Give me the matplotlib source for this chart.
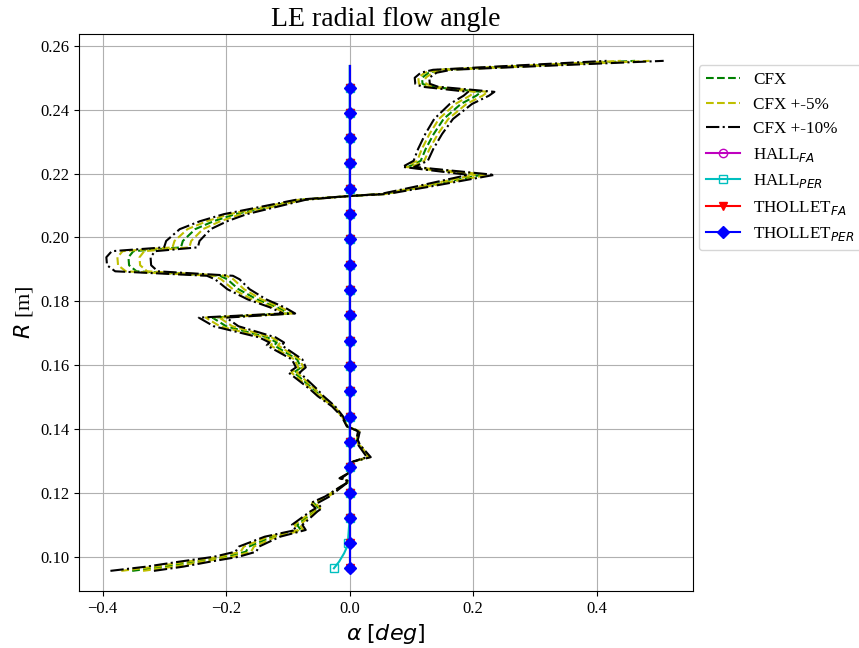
import numpy as np
import matplotlib
matplotlib.use("Agg")
import matplotlib.pyplot as plt

# CFX radial flow angle at the leading edge, hub to shroud
R_CFX = [0.0956, 0.0969, 0.0985, 0.1000, 0.1016, 0.1032, 0.1063, 0.1084, 0.1100,
         0.1142, 0.1152, 0.1168, 0.1189, 0.1215, 0.1236, 0.1246, 0.1267, 0.1288,
         0.1299, 0.1312, 0.1351, 0.1366, 0.1393, 0.1408, 0.1440, 0.1471, 0.1503,
         0.1524, 0.1577, 0.1593, 0.1618, 0.1662, 0.1671, 0.1687, 0.1722, 0.1749,
         0.1762, 0.1781, 0.1806, 0.1838, 0.1869, 0.1880, 0.1894, 0.1913, 0.1938,
         0.1957, 0.1969, 0.1989, 0.2026, 0.2051, 0.2073, 0.2118, 0.2130, 0.2136,
         0.2158, 0.2196, 0.2221, 0.2240, 0.2277, 0.2324, 0.2371, 0.2418, 0.2444,
         0.2456, 0.2472, 0.2481, 0.2500, 0.2516, 0.2525, 0.2553]
ALPHA_CFX = [-0.352, -0.300, -0.250, -0.200, -0.168, -0.163, -0.125, -0.079, -0.085,
             -0.058, -0.050, -0.058, -0.036, -0.017, -0.001, -0.015, 0.002, -0.004,
             0.007, 0.031, 0.015, 0.012, 0.015, -0.004, -0.012, -0.026, -0.047,
             -0.058, -0.090, -0.079, -0.085, -0.122, -0.118, -0.133, -0.200, -0.222,
             -0.098, -0.117, -0.150, -0.180, -0.198, -0.210, -0.345, -0.357, -0.358,
             -0.350, -0.273, -0.270, -0.250, -0.220, -0.185, -0.079, 0.002, 0.055,
             0.115, 0.213, 0.095, 0.115, 0.123, 0.136, 0.152, 0.180, 0.205,
             0.213, 0.130, 0.118, 0.117, 0.128, 0.150, 0.462]

# radial stations of the correlation models (marked points) and the line tip
R_STATIONS = [0.0964, 0.1043, 0.1122, 0.1201, 0.1281, 0.1360, 0.1439, 0.1518,
              0.1598, 0.1677, 0.1756, 0.1836, 0.1915, 0.1994, 0.2073, 0.2152,
              0.2232, 0.2311, 0.2390, 0.2469]
R_TIP = 0.2537

# HALL_PER bends towards the hub
R_HALL_PER_HUB = [0.0964, 0.0985, 0.1011, 0.1028]
ALPHA_HALL_PER_HUB = [-0.0255, -0.017, -0.009, -0.005]
ALPHA_HALL_PER_STATIONS = [-0.003] + [0.0] * 18

plt.rcParams["font.family"] = "serif"
plt.rcParams["font.serif"] = ["Liberation Serif", "DejaVu Serif"]
plt.rcParams["mathtext.fontset"] = "dejavusans"

fig, ax = plt.subplots(figsize=(8.59, 6.48), dpi=100)
fig.subplots_adjust(left=0.092, right=0.807, top=0.947, bottom=0.088)

r = np.array(R_CFX)
cfx = np.array(ALPHA_CFX)
ax.plot(cfx, r, "g--", label="CFX")
ax.plot(cfx * 0.95, r, "y--", label="CFX +-5%")
ax.plot(cfx * 1.05, r, "y--")
ax.plot(cfx * 0.90, r, "k-.", label="CFX +-10%")
ax.plot(cfx * 1.10, r, "k-.")

r_model = R_STATIONS + [R_TIP]
zero = [0.0] * len(r_model)
marks = list(range(len(R_STATIONS)))

ax.plot(zero, r_model, "m-o", mfc="none", markevery=marks, label="HALL$_{FA}$")
r_hall_per = R_HALL_PER_HUB + R_STATIONS[1:] + [R_TIP]
a_hall_per = ALPHA_HALL_PER_HUB + ALPHA_HALL_PER_STATIONS + [0.0]
ax.plot(a_hall_per, r_hall_per, "c-s", mfc="none",
        markevery=[0] + list(range(4, 4 + 19)), label="HALL$_{PER}$")
ax.plot(zero, r_model, "r-v", markevery=marks, label="THOLLET$_{FA}$")
ax.plot(zero, r_model, "b-D", markevery=marks, label="THOLLET$_{PER}$")

ax.set_xlim(-0.438, 0.556)
ax.set_ylim(0.0893, 0.2636)
ax.tick_params(labelsize=12)
ax.grid(True)
ax.set_title("LE radial flow angle", fontsize=20)
ax.set_xlabel(r"$\alpha$ $[deg]$", fontsize=16)
ax.set_ylabel(r"$R$ [m]", fontsize=16)
ax.legend(loc="upper left", bbox_to_anchor=(0.995, 0.96), fontsize=12.3)

fig.savefig("out.png", dpi=100)
